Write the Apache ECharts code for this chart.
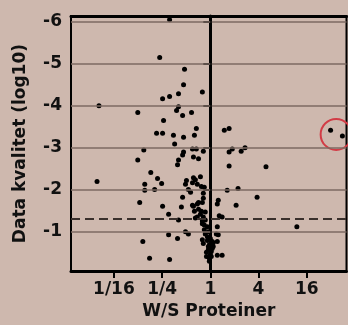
<!DOCTYPE html>
<html>
<head>
<meta charset="utf-8">
<script src="https://cdn.jsdelivr.net/npm/echarts@6/dist/echarts.min.js"></script>
<style>
  html, body { margin: 0; padding: 0; background: #ceb8ae; }
  #chart { width: 348px; height: 325px; }
</style>
</head>
<body>
<div id="chart"></div>
<script>
// aksene: x er log2(W/S), y er log10-verdi (negativ)
const xTickValues = [-4, -2, 0, 2, 4];
const xTickLabels = ['1/16', '1/4', '1', '4', '16'];
const yTickValues = [-6, -5, -4, -3, -2, -1];
const cutoffY = -1.3;
const centerX = 0;

// punkter lest av bildet: log2-forhold og datakvalitet
const ratioLog2 = [
  -1.69, -2.10, -1.07, -1.11, -0.33, -1.32, -1.69, -1.98, -4.62, -1.32,
  -1.40, -3.01, -1.15, -0.78, -1.94, -0.58, -0.66, -2.23, -1.98, -1.53,
  -1.11, -1.48, -2.76, -1.11, -1.15, -0.74, -0.58, -0.29, -0.70, -0.49,
  -1.32, -1.36, -3.01, -2.47, -2.19, -2.02, -4.70, -2.72, -2.72, -2.31,
  -0.99, -1.03, -0.70, -0.62, -0.41, -0.74, -0.54, -0.37, -0.25, -0.91,
  -0.82, -1.15, -0.29, -0.29, -2.93, -1.98, -1.20, -0.70, -1.73, -1.32,
  -0.62, -1.73, -1.36, -1.03, -0.91, -2.80, -2.52, -1.69,
  0.58, 0.78, 0.78, 0.91, 1.28, 1.44, 0.78, 2.31, 0.70, 1.15,
  1.94, 0.33, 0.29, 1.07, 0.37, 0.49, 0.29, 0.33, 3.59, 4.99, 5.48,
  -0.49, -0.33, -0.66, -0.49, -0.37, -0.54, -0.41, -0.29, -0.33, -0.21,
  -0.25, -0.12, -0.25, -0.08, -0.33, -0.12, 0.00, 0.08, -0.04, 0.12,
  -0.08, 0.04, 0.00, 0.29, 0.49, -0.29, -0.12, -0.21, -0.33, 0.12,
  -0.04, -0.16, 0.25, -0.21, -0.74, -0.54, 0.08, -0.08, -0.16, 0.04,
  -0.04, 0.29
];
const quality = [
  -6.05, -5.15, -4.87, -4.50, -4.33, -4.29, -4.22, -4.17, -4.00, -3.98,
  -3.89, -3.84, -3.77, -3.84, -3.65, -3.46, -3.30, -3.35, -3.35, -3.30,
  -3.25, -3.09, -2.95, -2.90, -2.83, -2.97, -2.97, -2.92, -2.78, -2.74,
  -2.71, -2.60, -2.71, -2.41, -2.27, -2.15, -2.20, -2.13, -1.99, -2.01,
  -2.22, -2.13, -2.29, -2.24, -2.31, -2.17, -2.13, -2.08, -2.06, -2.01,
  -1.94, -1.82, -1.92, -1.80, -1.70, -1.61, -1.59, -1.61, -1.42, -1.28,
  -1.33, -0.93, -0.84, -1.00, -0.95, -0.77, -0.37, -0.34,
  -3.42, -3.46, -2.90, -2.97, -2.92, -3.00, -2.57, -2.55, -1.99, -2.03,
  -1.82, -1.75, -1.66, -1.63, -1.38, -1.35, -1.12, -0.93, -1.12, -3.42, -3.28,
  -1.70, -1.70, -1.49, -1.54, -1.49, -1.35, -1.42, -1.35, -1.26, -1.28,
  -1.16, -1.12, -1.05, -1.00, -1.19, -0.88, -0.84, -0.77, -0.69, -0.65,
  -0.58, -0.53, -0.46, -0.44, -0.44, -0.72, -0.79, -0.95, -0.81, -0.74,
  -0.37, -0.41, -0.95, -1.47, -1.63, -1.66, -0.60, -0.65, -0.51, -0.41,
  -0.30, -0.77
];

// rød ring rundt de to punktene til høyre
const ringX = [5.22];
const ringY = [-3.32];

const points = ratioLog2.map((x, i) => [x, quality[i]]);
const ring = ringX.map((x, i) => [x, ringY[i]]);

const fontFam = 'DejaVu Sans';
const xMin = -5.78, xMax = 5.65;
const yMin = -6.14, yMax = -0.064;

const myChart = echarts.init(document.getElementById('chart'));
const option = {
  backgroundColor: '#ceb8ae',
  animation: false,
  grid: {
    left: 71, right: 1.5, top: 16, bottom: 50.5,
    show: true, borderColor: '#000', borderWidth: 2, backgroundColor: 'transparent'
  },
  xAxis: [
    {
      type: 'value', min: xMin, max: xMax,
      name: 'W/S Proteiner', nameLocation: 'middle', nameGap: 30,
      nameTextStyle: { fontFamily: fontFam, fontWeight: 'bold', fontSize: 17, color: '#111' },
      axisLine: { show: true, lineStyle: { color: '#000', width: 3 } },
      axisTick: { show: true, length: 7, customValues: xTickValues, lineStyle: { color: '#000', width: 2 } },
      axisLabel: {
        customValues: xTickValues, margin: 10,
        fontFamily: fontFam, fontWeight: 'bold', fontSize: 17, color: '#111',
        formatter: v => xTickLabels[xTickValues.indexOf(Math.round(v))]
      },
      splitLine: { show: false }
    },
    {
      type: 'value', min: xMin, max: xMax, position: 'top',
      axisLine: { show: true, lineStyle: { color: '#000', width: 3 } },
      axisTick: { show: false }, axisLabel: { show: false }, splitLine: { show: false }
    }
  ],
  yAxis: {
    type: 'value', min: yMin, max: yMax, inverse: true,
    name: 'Data kvalitet (log10)', nameLocation: 'middle', nameGap: 42,
    nameTextStyle: { fontFamily: fontFam, fontWeight: 'bold', fontSize: 17, color: '#111' },
    axisLine: { show: true, lineStyle: { color: '#000', width: 3 } },
    axisTick: { show: true, length: 7, customValues: yTickValues, lineStyle: { color: '#000', width: 2 } },
    axisLabel: {
      customValues: yTickValues, margin: 9,
      fontFamily: fontFam, fontWeight: 'bold', fontSize: 17, color: '#111'
    },
    splitLine: { show: false }
  },
  series: [
    {
      type: 'line', data: [], z: 1, silent: true,
      markLine: {
        silent: true, symbol: 'none', label: { show: false }, animation: false,
        data: [
          ...yTickValues.map(v => ({ yAxis: v, lineStyle: { color: '#7d6a62', width: 1.5, type: 'solid' } })),
          { xAxis: centerX, lineStyle: { color: '#000', width: 1.5, type: 'solid' } },
          { yAxis: cutoffY, lineStyle: { color: '#3a302c', width: 2, type: [9, 5] } }
        ]
      }
    },
    {
      type: 'scatter', data: points, symbol: 'circle', symbolSize: 5, z: 3,
      itemStyle: { color: '#000', opacity: 1 }
    },
    {
      type: 'scatter', data: ring, symbol: 'circle', symbolSize: 31, z: 4, clip: false,
      itemStyle: { color: 'transparent', borderColor: '#d23c46', borderWidth: 2, opacity: 1 }
    }
  ]
};
myChart.setOption(option);
</script>
</body>
</html>
